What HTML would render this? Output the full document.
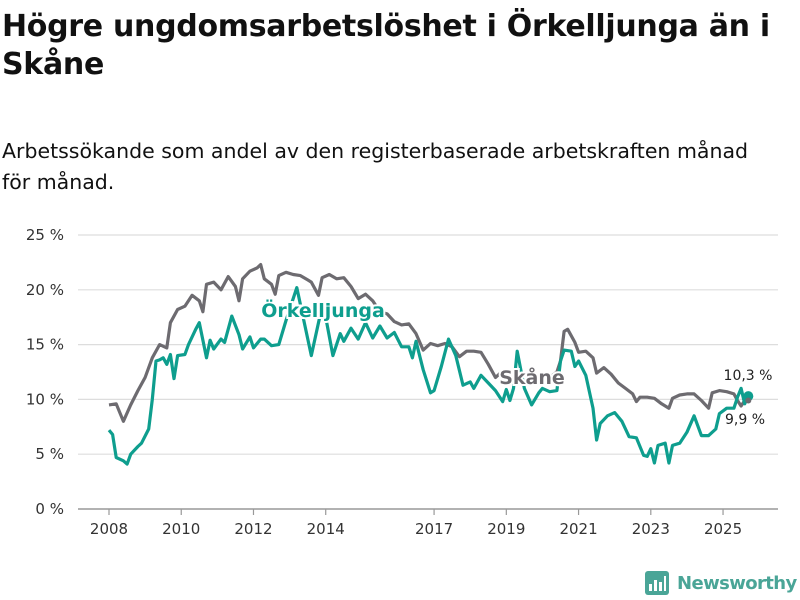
<!DOCTYPE html>
<html><head><meta charset="utf-8">
<style>
body{margin:0;width:800px;height:600px;background:#fff;font-family:"DejaVu Sans","Liberation Sans",sans-serif;color:#111;overflow:hidden;position:relative}
h1{position:absolute;left:2px;top:8px;margin:0;font-size:30px;line-height:38px;font-weight:bold;letter-spacing:-0.3px;width:790px}
p.sub{position:absolute;left:2px;top:136px;margin:0;font-size:20.5px;line-height:31px;width:782px}
svg{position:absolute;left:0;top:0}
</style></head><body>
<h1>Högre ungdomsarbetslöshet i Örkelljunga än i<br>Skåne</h1>
<p class="sub">Arbetssökande som andel av den registerbaserade arbetskraften månad<br>för månad.</p>
<svg id="chart" width="800" height="600"></svg>
<script>
const yTicks=[0,5,10,15,20,25];
const xTicks=[2008,2010,2012,2014,2017,2019,2021,2023,2025];
const skaneT=[2008.0,2008.2,2008.4,2008.6,2008.8,2009.0,2009.2,2009.4,2009.6,2009.7,2009.9,2010.1,2010.3,2010.5,2010.6,2010.7,2010.9,2011.1,2011.3,2011.5,2011.6,2011.7,2011.9,2012.1,2012.2,2012.3,2012.5,2012.6,2012.7,2012.9,2013.1,2013.3,2013.5,2013.6,2013.8,2013.9,2014.1,2014.3,2014.5,2014.7,2014.9,2015.1,2015.3,2015.5,2015.7,2015.9,2016.1,2016.3,2016.5,2016.7,2016.9,2017.1,2017.3,2017.5,2017.7,2017.9,2018.1,2018.3,2018.5,2018.7,2018.9,2019.1,2019.3,2019.6,2019.9,2020.2,2020.4,2020.5,2020.6,2020.7,2020.9,2021.0,2021.2,2021.4,2021.5,2021.7,2021.9,2022.1,2022.3,2022.5,2022.6,2022.7,2022.9,2023.1,2023.3,2023.5,2023.6,2023.8,2024.0,2024.2,2024.4,2024.6,2024.7,2024.9,2025.1,2025.3,2025.4,2025.5,2025.6,2025.7];
const skaneV=[9.5,9.6,8.0,9.5,10.8,12,13.8,15,14.7,17,18.2,18.5,19.5,19,18,20.5,20.7,20,21.2,20.3,19,21,21.7,22,22.3,21,20.5,19.6,21.3,21.6,21.4,21.3,20.9,20.7,19.5,21.1,21.4,21.0,21.1,20.3,19.2,19.6,19.0,18.0,17.8,17.1,16.8,16.9,16.0,14.5,15.1,14.9,15.1,14.8,13.9,14.4,14.4,14.3,13.2,12.0,12.6,12.3,11.5,11.6,11.8,12.0,12.5,13.5,16.2,16.4,15.2,14.3,14.4,13.8,12.4,12.9,12.3,11.5,11.0,10.5,9.8,10.2,10.2,10.1,9.6,9.2,10.1,10.4,10.5,10.5,9.9,9.2,10.6,10.8,10.7,10.5,9.9,9.4,9.9,9.9];
const orkT=[2008.0,2008.1,2008.2,2008.4,2008.5,2008.6,2008.8,2008.9,2009.1,2009.2,2009.3,2009.4,2009.5,2009.6,2009.7,2009.8,2009.9,2010.1,2010.2,2010.4,2010.5,2010.7,2010.8,2010.9,2011.1,2011.2,2011.4,2011.6,2011.7,2011.9,2012.0,2012.2,2012.3,2012.5,2012.7,2012.9,2013.2,2013.6,2013.9,2014.0,2014.2,2014.4,2014.5,2014.7,2014.9,2015.1,2015.3,2015.5,2015.7,2015.9,2016.1,2016.3,2016.4,2016.5,2016.7,2016.9,2017.0,2017.2,2017.4,2017.6,2017.8,2018.0,2018.1,2018.3,2018.5,2018.7,2018.9,2019.0,2019.1,2019.2,2019.3,2019.5,2019.7,2019.9,2020.0,2020.2,2020.4,2020.5,2020.6,2020.8,2020.9,2021.0,2021.2,2021.4,2021.5,2021.6,2021.8,2022.0,2022.2,2022.4,2022.6,2022.8,2022.9,2023.0,2023.1,2023.2,2023.4,2023.5,2023.6,2023.8,2024.0,2024.2,2024.4,2024.6,2024.8,2024.9,2025.1,2025.3,2025.4,2025.5,2025.6,2025.7];
const orkV=[7.2,6.8,4.7,4.4,4.1,5.0,5.7,6.0,7.3,10,13.5,13.6,13.8,13.2,14.1,11.9,14.0,14.1,15.0,16.4,17.0,13.8,15.4,14.6,15.5,15.2,17.6,15.9,14.6,15.7,14.7,15.5,15.5,14.9,15.0,17.2,20.2,14.0,18.5,17.5,14.0,16.0,15.3,16.5,15.5,17.0,15.6,16.7,15.6,16.1,14.8,14.8,13.8,15.3,12.7,10.6,10.8,13.0,15.5,14.0,11.3,11.6,11.0,12.2,11.5,10.8,9.8,10.9,9.9,11.0,14.4,11.0,9.5,10.6,11.0,10.7,10.8,13.5,14.5,14.4,13.0,13.5,12.2,9.2,6.3,7.8,8.5,8.8,8.0,6.6,6.5,4.9,4.8,5.5,4.2,5.8,6.0,4.2,5.8,6.0,7.0,8.5,6.7,6.7,7.3,8.7,9.2,9.2,10.2,11.0,9.6,10.3];
const svg=document.getElementById('chart');const NS='http://www.w3.org/2000/svg';
const X=t=>109+(t-2008)*36.12;
const Y=v=>509-v*10.96;
function mk(tag,attrs,parent){const e=document.createElementNS(NS,tag);for(const k in attrs)e.setAttribute(k,attrs[k]);(parent||svg).appendChild(e);return e;}
yTicks.forEach(v=>{
 const l=mk('line',{x1:78,x2:778,y1:Y(v),y2:Y(v),stroke:v===0?'#999':'#ddd','stroke-width':v===0?1.5:1.2});
 
 
 const t=mk('text',{x:64,y:Y(v)+5,'text-anchor':'end','font-size':15,fill:'#333'});t.textContent=v+' %';
 
 
});
xTicks.forEach(yr=>{
 const l=mk('line',{x1:X(yr),x2:X(yr),y1:509,y2:515,stroke:'#999','stroke-width':1.2});
 
 
 const t=mk('text',{x:X(yr),y:534,'text-anchor':'middle','font-size':15,fill:'#333'});t.textContent=yr;
 
 
});
function line(T,V,color,name){const d=T.map((t,i)=>(i?'L':'M')+X(t).toFixed(1)+','+Y(V[i]).toFixed(1)).join('');
 const p=mk('path',{d:d,fill:'none',stroke:color,'stroke-width':3.2,'stroke-linejoin':'round'});
 
 }
line(skaneT,skaneV,'#6d6b70','skane-line');
line(orkT,orkV,'#0e9e8e','orkelljunga-line');
function label(txt,x,y,color,name,size,bold){const t=mk('text',{x:x,y:y,'text-anchor':'middle','font-size':size,'font-weight':bold?'bold':'normal',fill:color,stroke:'#fff','stroke-width':4,'paint-order':'stroke'});t.textContent=txt;
 
 }
label('Örkelljunga',323,317,'#0e9e8e','orkelljunga-label',19,true);
label('Skåne',532,384,'#6d6b70','skane-label',19,true);
const lx=X(orkT[orkT.length-1]);
const dot=mk('circle',{cx:lx,cy:Y(orkV[orkV.length-1]),r:5,fill:'#0e9e8e'});


const dot2=mk('circle',{cx:lx,cy:Y(skaneV[skaneV.length-1]),r:3,fill:'#6d6b70'});


label('10,3 %',748,380,'#222','orkelljunga-end-value',14,false);
label('9,9 %',745,424,'#222','skane-end-value',14,false);
</script>
<div style="position:absolute;left:645px;top:570px;height:26px;display:flex;align-items:center">
<svg width="24" height="24" viewBox="0 0 24 24" style="position:static"><rect x="0" y="0" width="24" height="24" rx="3" fill="#4aa597"/><rect x="4" y="13" width="3" height="7" fill="#fff"/><rect x="9" y="9" width="3" height="11" fill="#fff"/><rect x="14" y="11" width="3" height="9" fill="#fff"/><rect x="19" y="5" width="2" height="15" fill="#fff"/></svg>
<span style="margin-left:8px;font-size:18px;font-weight:bold;color:#4aa597;letter-spacing:-0.6px">Newsworthy</span>
</div>
</body></html>
